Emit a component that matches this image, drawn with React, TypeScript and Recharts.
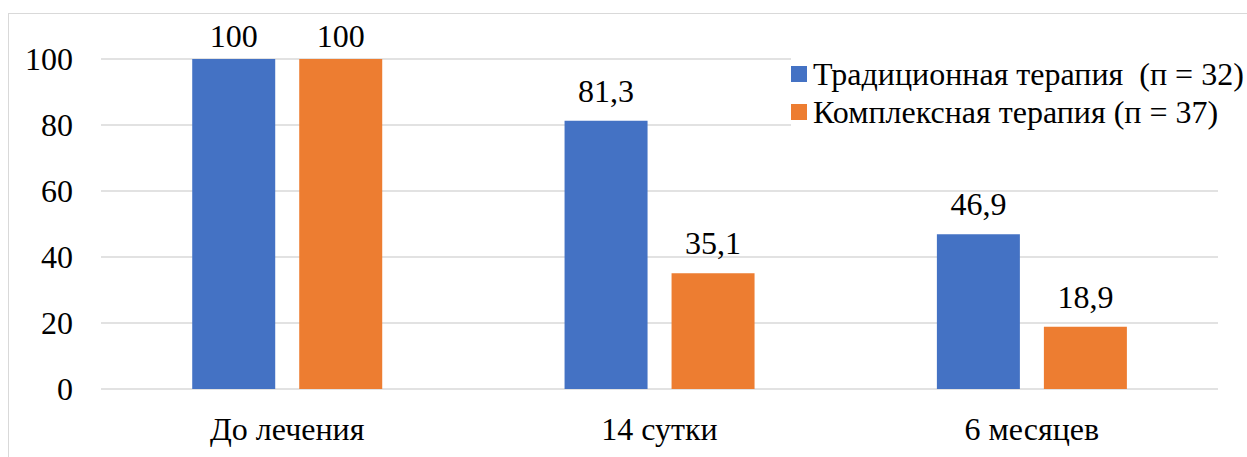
import React from "react";
import {
  BarChart,
  Bar,
  XAxis,
  YAxis,
  CartesianGrid,
  Legend,
  LabelList,
} from "recharts";

const periods = ["До лечения", "14 сутки", "6 месяцев"];
const traditional = [100, 81.3, 46.9];
const complex = [100, 35.1, 18.9];
const yTicks = [0, 20, 40, 60, 80, 100];
const seriesNames = ["Традиционная терапия  (п = 32)", "Комплексная терапия (п = 37)"];

const data = periods.map((name, i) => ({
  name,
  traditional: traditional[i],
  complex: complex[i],
}));

const FONT = "Liberation Serif";
const FONT_SIZE = 32;
const BLUE = "#4472C4";
const ORANGE = "#ED7D31";

// value label above the bar, kept inside the chart frame
const ValueLabel = (props: any) => {
  const { x, y, width, value } = props;
  const baseline = Math.max(y - 19, 47);
  return (
    <text
      x={x + width / 2}
      y={baseline}
      textAnchor="middle"
      fill="#000"
      fontSize={FONT_SIZE}
      fontFamily={FONT}
    >
      {String(value).replace(".", ",")}
    </text>
  );
};

const LegendBox = () => (
  <div style={{ fontFamily: FONT, fontSize: FONT_SIZE, color: "#000", lineHeight: "38px" }}>
    {[BLUE, ORANGE].map((c, i) => (
      <div key={i} style={{ display: "flex", alignItems: "center", background: "#fff", whiteSpace: "pre" }}>
        <span style={{ width: 16, height: 16, background: c, marginRight: 6, display: "inline-block" }} />
        <span>{seriesNames[i]}</span>
      </div>
    ))}
  </div>
);

const App = () => {
  return (
    <div style={{ position: "absolute", left: 0, top: 0, width: 1247, height: 457, overflow: "hidden", background: "#fff" }}>
      <div
        style={{
          position: "absolute",
          left: 8,
          top: 13,
          width: 1260,
          height: 470,
          border: "1.5px solid #D9D9D9",
        }}
      />
      <div style={{ position: "absolute", left: 0, top: 0 }}>
        <BarChart
          width={1247}
          height={457}
          data={data}
          margin={{ top: 59, right: 29, bottom: 0, left: 0 }}
          barCategoryGap="24.5%"
          barGap={24}
        >
          <CartesianGrid vertical={false} stroke="#D9D9D9" strokeWidth={1.5} />
          <XAxis
            dataKey="name"
            axisLine={false}
            tickLine={false}
            tickSize={0}
            tickMargin={28}
            height={68}
            tick={{ fill: "#000", fontSize: FONT_SIZE, fontFamily: FONT }}
          />
          <YAxis
            width={101}
            domain={[0, 100]}
            ticks={yTicks}
            axisLine={false}
            tickLine={false}
            tickSize={0}
            tickMargin={28}
            tick={{ fill: "#000", fontSize: FONT_SIZE, fontFamily: FONT }}
          />
          <Legend
            layout="vertical"
            align="center"
            verticalAlign="middle"
            content={<LegendBox />}
            wrapperStyle={{ position: "absolute", left: 791, top: 55, width: "auto" }}
          />
          <Bar dataKey="traditional" name={seriesNames[0]} fill={BLUE} isAnimationActive={false}>
            <LabelList dataKey="traditional" content={<ValueLabel />} />
          </Bar>
          <Bar dataKey="complex" name={seriesNames[1]} fill={ORANGE} isAnimationActive={false}>
            <LabelList dataKey="complex" content={<ValueLabel />} />
          </Bar>
        </BarChart>
      </div>
    </div>
  );
};

export default App;
